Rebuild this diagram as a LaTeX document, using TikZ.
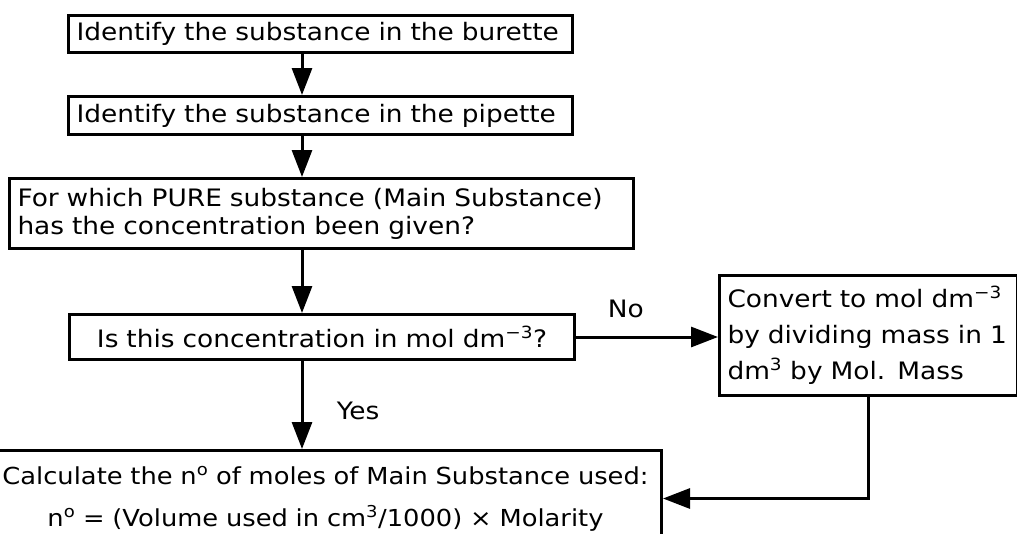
\documentclass[tikz,border=0pt]{standalone}
\usepackage{fontspec}
\setmainfont{DejaVu Sans}[FakeStretch=1.1]
\usetikzlibrary{arrows.meta}

\begin{document}
\begin{tikzpicture}[x=1pt, y=-1pt,
		font=\fontsize{24}{28}\selectfont,
		stepbox/.style={draw, line width=3pt, rectangle, anchor=north west, inner xsep=8pt, inner ysep=0pt},
		flow/.style={line width=3pt, -{Triangle[length=27pt,width=20pt]}}]
			%%%%% START %%%%%
			
			\path[use as bounding box, clip] (0,0) rectangle (1017,533);
			\coordinate (spine) at (302,0);
			
			\node[stepbox, minimum width=504pt, minimum height=37pt, text width=488pt, align=left] (burette) at (67,14) {Identify the substance in the burette};
			\node[stepbox, minimum width=504pt, minimum height=38pt, text width=488pt, align=left] (pipette) at (67,95) {Identify the substance in the pipette};
			\node[stepbox, minimum width=624pt, minimum height=70pt, text width=608pt, align=left] (pure) at (8,177) {For which PURE substance (Main Substance)\\has the concentration been given?};
			\node[stepbox, minimum width=505pt, minimum height=45pt, text width=489pt, align=center] (molcheck) at (68,313) {Is this concentration in mol dm\textsuperscript{−3}?};
			
			\node[stepbox, minimum width=298pt, minimum height=120pt, text width=282pt, align=left, font=\fontsize{24}{36}\selectfont] (convert) at (718,274) {Convert to mol dm\textsuperscript{−3}\\by dividing mass in 1\\dm\textsuperscript{3} by Mol. Mass};
			
			\node[stepbox, minimum width=672pt, minimum height=96pt, text width=656pt, align=center, font=\fontsize{23.4}{28}\selectfont] (moles) at (-12,449) {Calculate the n\textsuperscript{o} of moles of Main Substance used:\\[14pt]n\textsuperscript{o} = (Volume used in cm\textsuperscript{3}/1000) × Molarity};
			
			\draw[flow] (burette.south -| spine) -- (pipette.north -| spine);
			\draw[flow] (pipette.south -| spine) -- (pure.north -| spine);
			\draw[flow] (pure.south -| spine) -- (molcheck.north -| spine);
			\draw[flow] (molcheck.south -| spine) -- node[pos=0.57, right=30pt] (yes) {Yes} (moles.north -| spine);
			\draw[flow] (molcheck.east) -- node[pos=0.35, above=14pt] (no) {No} (molcheck.east -| convert.west);
			\draw[flow] (convert.south) |- (moles.east);
			
			%%%%% END %%%%%
		\end{tikzpicture}
\end{document}
